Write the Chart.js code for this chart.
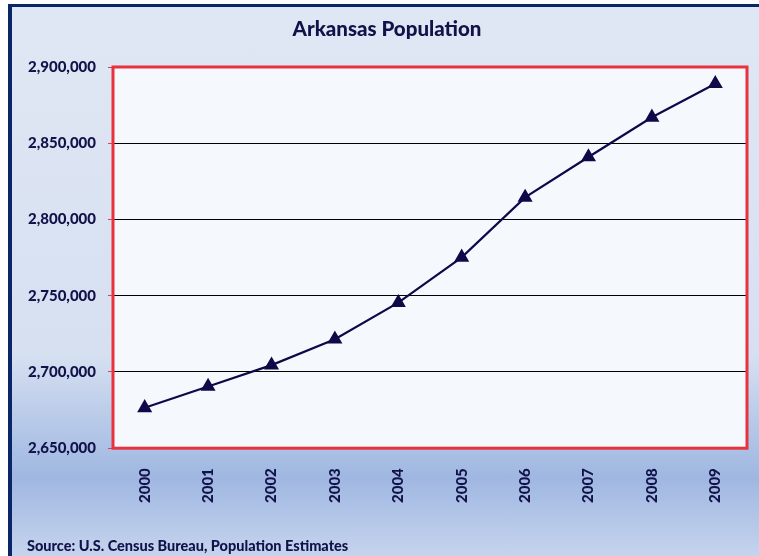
<!DOCTYPE html>
<html>
<head>
<meta charset="utf-8">
<script src="https://cdn.jsdelivr.net/npm/chart.js@4.4.1/dist/chart.umd.min.js"></script>
<style>
  html, body { margin: 0; padding: 0; background: #ffffff; }
  body { width: 759px; height: 556px; position: relative; overflow: hidden; }
  #frame {
    position: absolute; left: 8px; top: 4px; width: 760px; height: 560px;
    border-top: 3px solid #0b2668; border-left: 4px solid #0b2668;
    background: linear-gradient(to bottom, #e0e7f4 0%, #d6e0f1 62%, #9fb7e1 84%, #cbd8ef 100%);
  }
  #wrap { position: absolute; left: 0; top: 0; width: 759px; height: 556px; }
</style>
</head>
<body>
<div id="frame"></div>
<div id="wrap"><canvas id="chart"></canvas></div>
<script>
const years = ["2000", "2001", "2002", "2003", "2004", "2005", "2006", "2007", "2008", "2009"];
const population = [2676500, 2690500, 2704500, 2721500, 2745500, 2775200, 2814500, 2841000, 2867000, 2889000];
const yMin = 2650000;
const yMax = 2900000;
const yStep = 50000;

const navy = "#12124a";
const font = "Lato, 'Open Sans', sans-serif";

const plotFrame = {
  id: "plotFrame",
  beforeDraw(chart) {
    const { ctx, chartArea: a } = chart;
    ctx.save();
    ctx.fillStyle = "#f5f8fc";
    ctx.fillRect(a.left, a.top, a.right - a.left, a.bottom - a.top);
    ctx.restore();
  },
  afterDatasetsDraw(chart) {
    const { ctx, chartArea: a } = chart;
    ctx.save();
    ctx.strokeStyle = "#e8333f";
    ctx.lineWidth = 3;
    ctx.strokeRect(a.left, a.top, a.right - a.left, a.bottom - a.top);
    ctx.restore();
  }
};

new Chart(document.getElementById("chart"), {
  type: "line",
  data: {
    labels: years,
    datasets: [{
      label: "Arkansas Population",
      data: population,
      borderColor: "#0e0a4a",
      backgroundColor: "#0e0a4a",
      borderWidth: 2.2,
      pointStyle: "triangle",
      pointRadius: 6.5,
      pointHoverRadius: 6.5,
      tension: 0
    }]
  },
  options: {
    responsive: true,
    maintainAspectRatio: false,
    animation: false,
    layout: { padding: { left: 27, right: 12, top: 0, bottom: 0 } },
    plugins: {
      legend: { display: false },
      tooltip: { enabled: false },
      title: {
        display: true,
        text: "Arkansas Population",
        color: navy,
        font: { family: font, size: 20.5, weight: "900" },
        padding: { top: 17.5, bottom: 24.9 }
      },
      subtitle: {
        display: true,
        position: "bottom",
        align: "start",
        text: "Source: U.S. Census Bureau, Population Estimates",
        color: navy,
        font: { family: font, size: 14.5, weight: "900" },
        padding: { top: 7.4, bottom: 1 }
      }
    },
    scales: {
      x: {
        offset: true,
        grid: { display: false, drawTicks: false },
        border: { display: false },
        ticks: {
          color: navy,
          font: { family: font, size: 15, weight: "900" },
          minRotation: 90,
          maxRotation: 90,
          padding: 20
        },
        afterFit(scale) { scale.height = 82; }
      },
      y: {
        min: yMin,
        max: yMax,
        grid: { color: "#000000", lineWidth: 1, tickLength: 5, tickColor: "#e0404c" },
        border: { display: false },
        ticks: {
          stepSize: yStep,
          color: navy,
          font: { family: font, size: 15, weight: "900" },
          padding: 12,
          callback: v => v.toLocaleString("en-US")
        },
        afterFit(scale) { scale.width = 86; }
      }
    }
  },
  plugins: [plotFrame]
});
</script>
</body>
</html>
